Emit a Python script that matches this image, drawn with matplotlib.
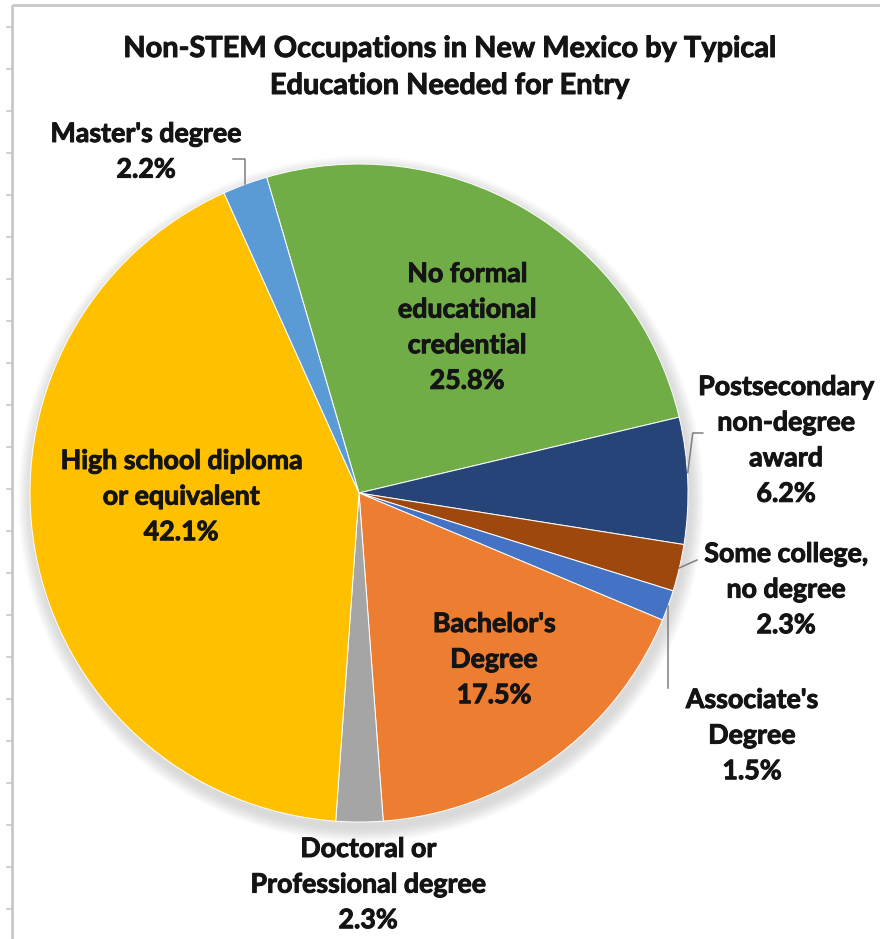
import matplotlib
matplotlib.use('Agg')
import matplotlib.pyplot as plt
from matplotlib.patches import Circle
import matplotlib.patheffects as pe
import numpy as np

# ---------------- data ----------------
categories = ["No formal educational credential", "Postsecondary non-degree award",
              "Some college, no degree", "Associate's Degree", "Bachelor's Degree",
              "Doctoral or Professional degree", "High school diploma or equivalent",
              "Master's degree"]
shares = [25.8, 6.2, 2.3, 1.5, 17.5, 2.3, 42.1, 2.2]
colors = ['#70AD47', '#264478', '#9E480E', '#4472C4', '#ED7D31', '#A5A5A5', '#FFC000', '#5B9BD5']
label_lines = [["No formal", "educational", "credential"],
               ["Postsecondary", "non-degree", "award"],
               ["Some college,", "no degree"],
               ["Associate's", "Degree"],
               ["Bachelor's", "Degree"],
               ["Doctoral or", "Professional degree"],
               ["High school diploma", "or equivalent"],
               ["Master's degree"]]
title_lines = ["Non-STEM Occupations in New Mexico by Typical", "Education Needed for Entry"]

# ---------------- layout ----------------
W, H = 880, 939
FONT = ['Lato', 'DejaVu Sans']
TXT = '#141414'
STROKE = [pe.withStroke(linewidth=0.7, foreground=TXT)]

def Y(y):
    return H - y

fig = plt.figure(figsize=(W / 100, H / 100), dpi=100)
ax = fig.add_axes([0, 0, 1, 1])

cx, cy, R = 359, Y(493), 329

# soft shadow
for i in range(14):
    ax.add_patch(Circle((cx + 2, cy - 6), R + 14 - i, color='#808080', alpha=0.02,
                        lw=0, zorder=0))

wedges, _ = ax.pie(shares, colors=colors, startangle=106.3, counterclock=False,
                   center=(cx, cy), radius=R,
                   wedgeprops=dict(edgecolor='white', linewidth=0.7))
for w in wedges:
    w.set_zorder(2)

ax.set_xlim(0, W)
ax.set_ylim(0, H)
ax.set_aspect('auto')
ax.axis('off')

renderer = fig.canvas.get_renderer()

def fit_size(text, target_w):
    t = ax.text(0, 0, text, fontsize=10, family=FONT, weight='bold')
    w = t.get_window_extent(renderer).width
    t.remove()
    return 10 * target_w / w

fs_lab = fit_size("Master's degree", 192)
fs_title = fit_size(title_lines[0], 654)

# title
for k, (line, yb) in enumerate(zip(title_lines, [57, 94])):
    ax.text(450, Y(yb), line, ha='center', va='baseline', fontsize=fs_title,
            family=FONT, weight='bold', color=TXT, zorder=5, path_effects=STROKE)

# labels: (center x, first baseline y) in image pixels
label_pos = [(467, 282), (786, 395), (786, 562), (752, 708),
             (494, 632), (368, 857), (181, 469), (146, 142)]
LS = 35.6
for lines, v, (lx, ly) in zip(label_lines, shares, label_pos):
    allines = lines + [f"{v:.1f}%"]
    for j, s in enumerate(allines):
        ax.text(lx, Y(ly + j * LS), s, ha='center', va='baseline', fontsize=fs_lab,
                family=FONT, weight='bold', color=TXT, zorder=5, path_effects=STROKE)

# leader lines
def edge(i):
    w = wedges[i]
    th = np.deg2rad((w.theta1 + w.theta2) / 2)
    return cx + R * np.cos(th), cy + R * np.sin(th)

LC = '#7f7f7f'
ex, ey = edge(7)  # Master's
ax.plot([ex, ex, ex - 12], [ey, Y(159), Y(159)], color=LC, lw=1.1, zorder=4)
ex, ey = edge(1)  # Postsecondary
ax.plot([ex, ex + 5, ex + 15], [ey + 8, Y(433), Y(433)], color=LC, lw=1.1, zorder=4)
ex, ey = edge(2)  # Some college
ax.plot([ex, 697], [ey, Y(560)], color=LC, lw=1.1, zorder=4)
ex, ey = edge(3)  # Associate's
ax.plot([ex, ex], [ey, Y(688)], color=LC, lw=1.1, zorder=4)

# frame (sheet border)
BC = '#c8c8c8'
ax.plot([12, 12], [0, Y(5)], color=BC, lw=2, zorder=1, solid_capstyle='butt')
ax.plot([12, W], [Y(5), Y(5)], color=BC, lw=2, zorder=1, solid_capstyle='butt')
for yt in np.arange(27, H, 42):
    ax.plot([7, 12], [Y(yt), Y(yt)], color=BC, lw=1.2, zorder=1)

fig.savefig('out.png', dpi=100)
